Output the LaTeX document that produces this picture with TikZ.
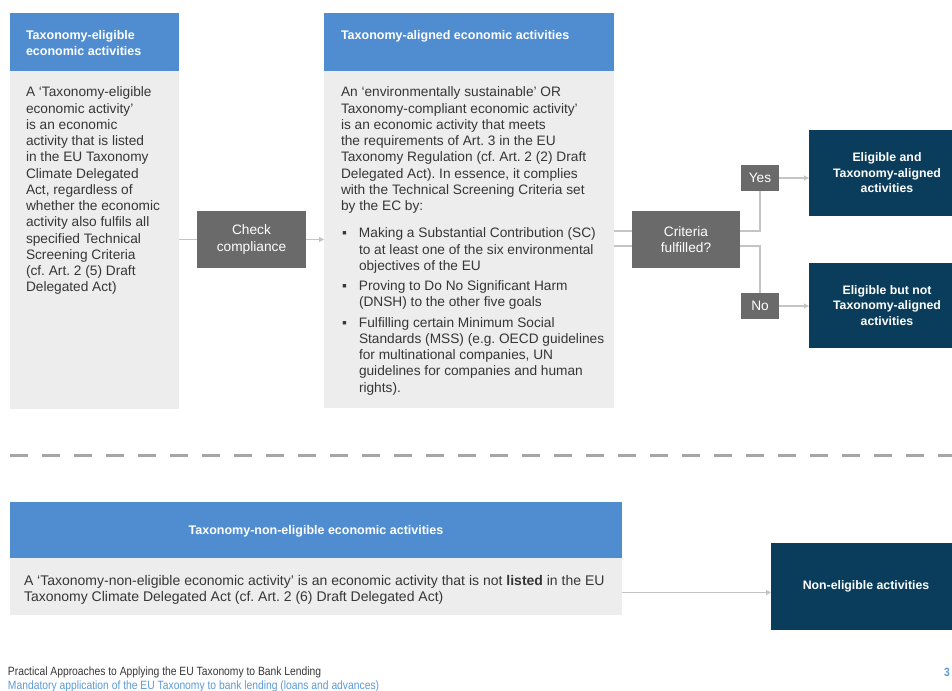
\documentclass[tikz,border=0pt]{standalone}
\usepackage{fontspec}
\setmainfont{Liberation Sans}
\newfontfamily\footfont[FakeStretch=0.86]{Liberation Sans}
\usetikzlibrary{arrows.meta, positioning, calc}
\definecolor{taxblue}{HTML}{4F8DD0}
\definecolor{taxgray}{HTML}{EDEDED}
\definecolor{taxdark}{HTML}{6A6A6A}
\definecolor{taxnavy}{HTML}{0A3D5C}
\definecolor{taxline}{HTML}{C4C4C4}
\definecolor{taxtext}{HTML}{363636}
\definecolor{taxdash}{HTML}{A6A6A6}
\definecolor{taxfoot}{HTML}{5B9BD5}
\newcommand{\bodysize}{\fontsize{13.7}{16.25}\selectfont}
\newcommand{\headsize}{\fontsize{12.5}{16}\selectfont\bfseries}
\frenchspacing

\begin{document}
\begin{tikzpicture}[
  x=1pt, y=-1pt,
  every node/.style={inner sep=0pt, outer sep=0pt},
  headbox/.style={rectangle, fill=taxblue, anchor=north west, minimum height=58},
  bodybox/.style={rectangle, fill=taxgray, anchor=north west},
  headtext/.style={anchor=north west, align=left, text=white, font=\headsize},
  bodytext/.style={anchor=north west, align=left, text=taxtext, font=\bodysize},
  stepbox/.style={rectangle, fill=taxdark, text=white, align=center, font=\bodysize},
  resultbox/.style={rectangle, fill=taxnavy, text=white, align=center, font=\fontsize{12.3}{15.5}\selectfont\bfseries},
  link/.style={draw=taxline, line width=1.6},
  arrowlink/.style={link, -{Triangle[length=5,width=5]}},
]
\useasboundingbox[fill=white] (0,0) rectangle (952,690);

% eligible column
\node[headbox, minimum width=169] (elighead) at (10,13) {};
\node[bodybox, minimum width=169, minimum height=338] (eligbody) at (10,71) {};
\node[headtext] (eligtitle) at ($(elighead.north west)+(16,17)$) {Taxonomy-eligible\\economic activities};
\node[bodytext] (eligtext) at ($(eligbody.north west)+(16,16)$) {A ‘Taxonomy-eligible\\economic activity’\\is an economic\\activity that is listed\\in the EU Taxonomy\\Climate Delegated\\Act, regardless of\\whether the economic\\activity also fulfils all\\specified Technical\\Screening Criteria\\(cf. Art. 2 (5) Draft\\Delegated Act)};

% aligned column
\node[headbox, minimum width=290] (alignhead) at (324,13) {};
\node[bodybox, minimum width=290, minimum height=337] (alignbody) at (324,71) {};
\node[headtext] (aligntitle) at ($(alignhead.north west)+(17,17)$) {Taxonomy-aligned economic activities};
\node[bodytext] (aligntext) at ($(alignbody.north west)+(17,16)$) {An ‘environmentally sustainable’ OR\\Taxonomy-compliant economic activity’\\is an economic activity that meets\\the requirements of Art. 3 in the EU\\Taxonomy Regulation (cf. Art. 2 (2) Draft\\Delegated Act). In essence, it complies\\with the Technical Screening Criteria set\\by the EC by:\\[11pt]
\makebox[18pt][l]{\hspace{1pt}▪}Making a Substantial Contribution (SC)\\\hspace*{18pt}to at least one of the six environmental\\\hspace*{18pt}objectives of the EU\\[4pt]
\makebox[18pt][l]{\hspace{1pt}▪}Proving to Do No Significant Harm\\\hspace*{18pt}(DNSH) to the other five goals\\[4pt]
\makebox[18pt][l]{\hspace{1pt}▪}Fulfilling certain Minimum Social\\\hspace*{18pt}Standards (MSS) (e.g. OECD guidelines\\\hspace*{18pt}for multinational companies, UN\\\hspace*{18pt}guidelines for companies and human\\\hspace*{18pt}rights).};

% decision steps
\node[stepbox, minimum width=109, minimum height=57] (check) at (251.5,239.5) {Check\\compliance};
\node[stepbox, minimum width=108, minimum height=57] (crit) at (686,239.5) {Criteria\\fulfilled?};
\node[stepbox, minimum width=38, minimum height=26] (yes) at (760,178) {Yes};
\node[stepbox, minimum width=38, minimum height=26] (no) at (760,306) {No};

% outcomes
\node[resultbox, minimum width=156, minimum height=86] (alignout) at (887,173) {Eligible and\\Taxonomy-aligned\\activities};
\node[resultbox, minimum width=156, minimum height=85] (notalignout) at (887,305.5) {Eligible but not\\Taxonomy-aligned\\activities};

\draw[link] (check.west -| eligbody.east) -- (check.west);
\draw[arrowlink] (check.east) -- (check.east -| alignbody.west);
\draw[link] ([yshift=8.5]crit.west -| alignbody.east) -- ([yshift=8.5]crit.west);
\draw[link] ([yshift=-6.5]crit.west -| alignbody.east) -- ([yshift=-6.5]crit.west);
\draw[link] ([yshift=8.5]crit.east) -| (yes.south);
\draw[link] ([yshift=-6.5]crit.east) -| (no.north);
\draw[arrowlink] (yes.east) -- (yes.east -| alignout.west);
\draw[arrowlink] (no.east) -- (no.east -| notalignout.west);

% separator
\coordinate (sepleft) at (10,455);
\coordinate (sepright) at (952,455);
\draw[taxdash, line width=3, dash pattern=on 18 off 14] (sepleft) -- (sepright);

% non-eligible row
\node[headbox, minimum width=612, minimum height=56] (noneligHead) at (10,502) {};
\node[bodybox, minimum width=612, minimum height=57] (noneligbody) at (10,558) {};
\node[text=white, font=\headsize] (noneligtitle) at ($(noneligHead.center)+(0,1)$) {Taxonomy-non-eligible economic activities};
\node[anchor=west, align=left, text=taxtext, font=\fontsize{14}{16}\selectfont] (nonelistext) at ($(noneligbody.west)+(14,3)$) {A ‘Taxonomy-non-eligible economic activity’ is an economic activity that is not \textbf{listed} in the EU\\Taxonomy Climate Delegated Act (cf. Art. 2 (6) Draft Delegated Act)};
\node[resultbox, minimum width=190, minimum height=87] (noneligout) at (866,586.5) {Non-eligible activities};
\draw[arrowlink] ([yshift=-6]noneligbody.east) -- ([yshift=-6]noneligbody.east -| noneligout.west);

% footer
\node[anchor=west, text=taxtext, font=\footfont\fontsize{12}{13}\selectfont] (foottitle) at (8,672) {Practical Approaches to Applying the EU Taxonomy to Bank Lending};
\node[anchor=west, text=taxfoot, font=\footfont\fontsize{12}{13}\selectfont] (footsub) at (8,686) {Mandatory application of the EU Taxonomy to bank lending (loans and advances)};
\node[anchor=west, text=taxfoot, font=\footfont\fontsize{12}{13}\selectfont\bfseries] (pagenum) at (944,672) {3};
\end{tikzpicture}
\end{document}
